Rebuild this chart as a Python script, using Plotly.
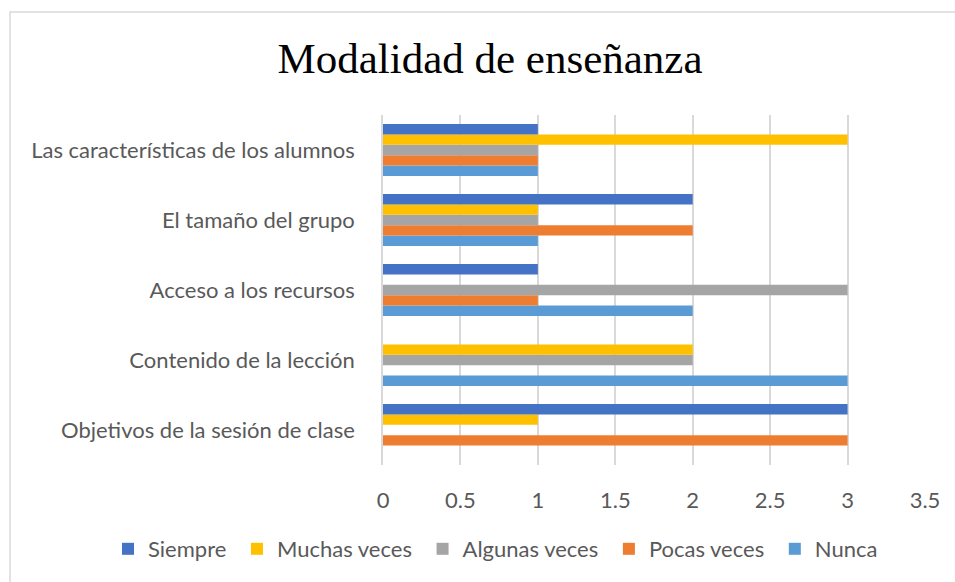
import plotly.graph_objects as go

categories = [
    "Objetivos de la sesión de clase",
    "Contenido de la lección",
    "Acceso a los recursos",
    "El tamaño del grupo",
    "Las características de los alumnos",
]
siempre = [3, 0, 1, 2, 1]
muchas_veces = [1, 2, 0, 1, 3]
algunas_veces = [0, 2, 3, 1, 1]
pocas_veces = [3, 0, 1, 2, 1]
nunca = [0, 3, 2, 1, 1]

series_names = ["Siempre", "Muchas veces", "Algunas veces", "Pocas veces", "Nunca"]
series_values = [siempre, muchas_veces, algunas_veces, pocas_veces, nunca]
colors = ["#4472C4", "#FFC000", "#A5A5A5", "#ED7D31", "#5B9BD5"]
x_ticks = [0, 0.5, 1, 1.5, 2, 2.5, 3, 3.5]

W, H = 955, 582
L, R, T, B = 383, 925, 115, 465
pw, ph = R - L, B - T

fig = go.Figure()
# Plotly draws the first trace at the bottom of a horizontal group; reverse so Siempre is on top
for name, vals, col in reversed(list(zip(series_names, series_values, colors))):
    fig.add_trace(go.Bar(
        y=categories, x=vals, name=name + "\u00a0", orientation="h",
        marker=dict(color=col, line=dict(width=0)),
    ))

font_family = "Lato, 'Open Sans', sans-serif"
fig.update_layout(
    width=W, height=H,
    margin=dict(l=L, r=W - R, t=T, b=H - B),
    paper_bgcolor="white", plot_bgcolor="white",
    barmode="group", bargap=0.26, bargroupgap=0,
    title=dict(
        text="Modalidad de enseñanza",
        font=dict(family="'Liberation Serif', 'Times New Roman', serif", size=43, color="black"),
        x=490 / W, xanchor="center", xref="container",
        y=1 - 58 / H, yanchor="middle", yref="container",
    ),
    legend=dict(
        orientation="h", traceorder="reversed",
        x=(108 - L) / pw, xanchor="left", xref="paper",
        y=(B - 549) / ph, yanchor="middle", yref="paper",
        font=dict(family=font_family, size=22, color="#595959"),
        itemwidth=30,
    ),
    showlegend=True,
)
fig.update_xaxes(
    range=[0, 3.5], tickvals=x_ticks, ticktext=[f"{v:g}" for v in x_ticks],
    showgrid=True, gridcolor="#D9D9D9", gridwidth=1.5,
    zeroline=False, showline=False,
    tickfont=dict(family=font_family, size=22, color="#595959"),
    ticklabelstandoff=20,
)
fig.update_yaxes(
    showgrid=False, showline=True, linecolor="#D9D9D9", linewidth=1.5,
    tickfont=dict(family=font_family, size=22, color="#595959"),
    ticklabelstandoff=22,
)
# outer chart border
fig.add_shape(
    type="rect", xref="paper", yref="paper",
    x0=(10 - L) / pw, x1=(960 - L) / pw,
    y0=(B - 590) / ph, y1=(B - 12) / ph,
    line=dict(color="#D9D9D9", width=1.5), fillcolor="rgba(0,0,0,0)", layer="below",
)
fig.write_html(
    "out.html",
    config={"displayModeBar": False},
    post_script="document.body.style.margin='0';",
)
